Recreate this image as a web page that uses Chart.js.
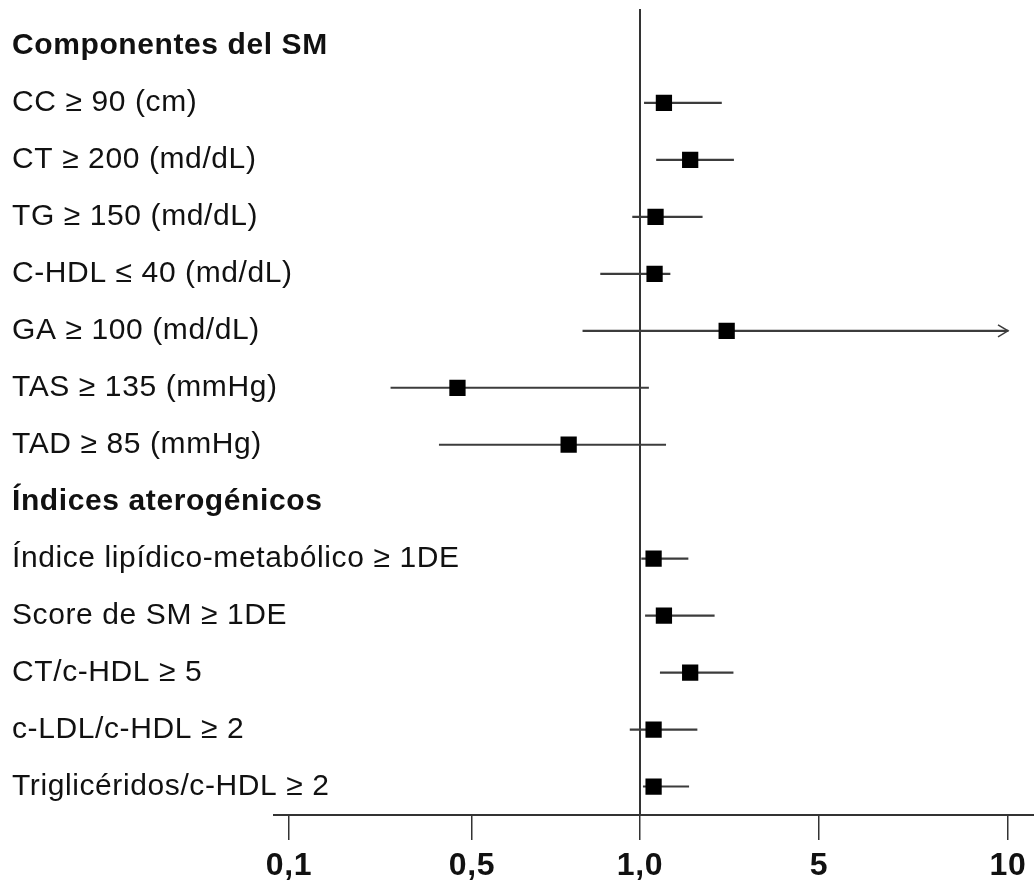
<!DOCTYPE html>
<html lang="es">
<head>
<meta charset="utf-8">
<title>Forest plot - Componentes del SM e índices aterogénicos</title>
<script src="https://cdn.jsdelivr.net/npm/chart.js@4.4.1/dist/chart.umd.min.js"></script>
<style>
  html, body { margin: 0; padding: 0; background: #fff; overflow: hidden; }
  #wrap { width: 1034px; height: 882px; position: relative; overflow: hidden; }
  #forest { display: block; }
</style>
</head>
<body>
<div id="wrap"><canvas id="forest"></canvas></div>
<script>
// rows of the plot, the two section headers carry no estimate
const categories = [
  'Componentes del SM',
  'CC ≥ 90 (cm)',
  'CT ≥ 200 (md/dL)',
  'TG ≥ 150 (md/dL)',
  'C-HDL ≤ 40 (md/dL)',
  'GA ≥ 100 (md/dL)',
  'TAS ≥ 135 (mmHg)',
  'TAD ≥ 85 (mmHg)',
  'Índices aterogénicos',
  'Índice lipídico-metabólico ≥ 1DE',
  'Score de SM ≥ 1DE',
  'CT/c-HDL ≥ 5',
  'c-LDL/c-HDL ≥ 2',
  'Triglicéridos/c-HDL ≥ 2'
];
const headers = ['Componentes del SM', 'Índices aterogénicos'];

const oddsRatio = [null, 1.24, 1.57, 1.15, 1.14, 2.18, 0.44, 0.745, null, 1.13, 1.24, 1.57, 1.13, 1.13];
const ciLow     = [null, 1.04, 1.16, 0.97, 0.85, 0.79, 0.245, 0.375, null, 1.015, 1.05, 1.20, 0.96, 1.03];
const ciHigh    = [null, 2.08, 2.32, 1.75, 1.31, 10, 1.08, 1.26, null, 1.54, 1.95, 2.31, 1.67, 1.55];
// upper limit runs past the end of the axis (drawn with an arrow)
const openEnded = ['GA ≥ 100 (md/dL)'];

const tickValues = [0.1, 0.5, 1, 5, 10];
const tickLabels = ['0,1', '0,5', '1,0', '5', '10'];

// the original axis is not a true log axis, ticks sit at these offsets
const axisStops = [0, 183, 351, 530, 719];

function toAxis(v) {
  if (v == null) return null;
  const lv = Math.log10(v);
  const n = tickValues.length;
  for (let i = 0; i < n - 1; i++) {
    const a = Math.log10(tickValues[i]);
    const b = Math.log10(tickValues[i + 1]);
    if (lv <= b || i === n - 2) {
      return axisStops[i] + (lv - a) / (b - a) * (axisStops[i + 1] - axisStops[i]);
    }
  }
}

const refLine = {
  id: 'refLine',
  beforeDraw(chart) {
    chart.ctx.letterSpacing = '0.6px';
  },
  beforeDatasetsDraw(chart) {
    const { ctx, chartArea } = chart;
    const px = chart.scales.x.getPixelForValue(toAxis(1));
    ctx.save();
    ctx.strokeStyle = '#333';
    ctx.lineWidth = 2;
    ctx.beginPath();
    ctx.moveTo(px, 9);
    ctx.lineTo(px, chartArea.bottom);
    ctx.stroke();
    ctx.restore();
  },
  afterDatasetsDraw(chart) {
    const { ctx } = chart;
    const { x, y } = chart.scales;
    ctx.save();
    ctx.strokeStyle = '#3c3c3c';
    ctx.lineWidth = 1.5;
    openEnded.forEach(label => {
      const i = categories.indexOf(label);
      const px = x.getPixelForValue(toAxis(ciHigh[i]));
      const py = y.getPixelForValue(i);
      ctx.beginPath();
      ctx.moveTo(px - 10, py - 6);
      ctx.lineTo(px, py);
      ctx.lineTo(px - 10, py + 6);
      ctx.stroke();
    });
    ctx.restore();
  }
};

new Chart(document.getElementById('forest'), {
  type: 'bar',
  data: {
    labels: categories,
    datasets: [
      {
        type: 'bar',
        label: 'IC 95%',
        data: categories.map((c, i) => ciLow[i] == null ? null : [toAxis(ciLow[i]), toAxis(ciHigh[i])]),
        backgroundColor: '#3c3c3c',
        borderWidth: 0,
        barThickness: 1.5,
        order: 2
      },
      {
        type: 'line',
        label: 'OR',
        data: oddsRatio.map(toAxis),
        showLine: false,
        pointStyle: 'rect',
        pointRadius: 11.5,
        pointHoverRadius: 11.5,
        pointBackgroundColor: '#000',
        pointBorderWidth: 0,
        order: 1
      }
    ]
  },
  options: {
    indexAxis: 'y',
    responsive: true,
    maintainAspectRatio: false,
    animation: false,
    layout: {
      autoPadding: false,
      padding: { left: 12, top: 17.5, right: 0, bottom: 0 }
    },
    plugins: {
      legend: { display: false },
      tooltip: { enabled: false }
    },
    scales: {
      x: {
        type: 'linear',
        position: 'bottom',
        min: -15,
        max: 745,
        afterBuildTicks(scale) {
          scale.ticks = tickValues.map(v => ({ value: toAxis(v) }));
        },
        afterFit(scale) {
          scale.height = 67;
          scale.paddingLeft = 0;
          scale.paddingRight = 0;
        },
        grid: {
          display: true,
          drawOnChartArea: false,
          drawTicks: true,
          tickLength: 25,
          color: '#333',
          lineWidth: 1.5
        },
        border: { display: true, color: '#333', width: 2 },
        ticks: {
          padding: 7,
          color: '#111',
          font: { family: '"Liberation Sans", Arial, sans-serif', size: 32, weight: 'bold' },
          callback: (val, i) => tickLabels[i]
        }
      },
      y: {
        type: 'category',
        offset: true,
        afterFit(scale) {
          scale.width = 262;
        },
        grid: { display: false },
        border: { display: false },
        ticks: {
          autoSkip: false,
          mirror: true,
          padding: -262,
          color: '#111',
          font: (ctx) => ({
            family: '"Liberation Sans", Arial, sans-serif',
            size: 30,
            weight: headers.includes(categories[ctx.index]) ? 'bold' : 'normal'
          })
        }
      }
    }
  },
  plugins: [refLine]
});
</script>
</body>
</html>
